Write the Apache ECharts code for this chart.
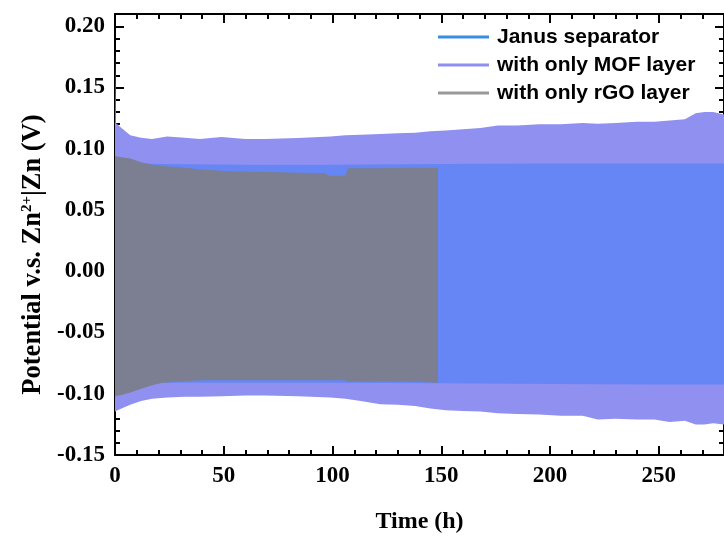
<!DOCTYPE html>
<html><head><meta charset="utf-8">
<script src="https://cdn.jsdelivr.net/npm/echarts@6/dist/echarts.min.js"></script>
<style>html,body{margin:0;padding:0;background:#fff}#c{width:724px;height:539px}</style>
</head><body><div id="c"></div>
<script>
// ---- data (envelopes of the cycling voltage traces) ----
const seriesNames = ['Janus separator', 'with only MOF layer', 'with only rGO layer'];
const xTickLabels = [0, 50, 100, 150, 200, 250];
const yTickLabels = [-0.15, -0.10, -0.05, 0.00, 0.05, 0.10, 0.15, 0.20];

const mofTime  = [0, 0.4, 3, 7, 12, 17, 24, 32, 39, 49, 60, 69, 84, 99, 106, 113, 122, 130, 138, 145, 152, 160, 168, 176, 185, 195, 205, 215, 222, 230, 240, 248, 255, 262, 267, 271, 275, 280];
const mofUpper = [0.18, 0.121, 0.117, 0.111, 0.109, 0.108, 0.110, 0.109, 0.108, 0.1095, 0.108, 0.108, 0.1087, 0.110, 0.111, 0.1115, 0.112, 0.1127, 0.113, 0.1143, 0.115, 0.116, 0.117, 0.119, 0.119, 0.120, 0.120, 0.121, 0.1205, 0.121, 0.122, 0.122, 0.123, 0.124, 0.129, 0.130, 0.130, 0.128];
const mofLower = [-0.115, -0.114, -0.112, -0.109, -0.106, -0.104, -0.103, -0.1025, -0.1025, -0.102, -0.1015, -0.1015, -0.102, -0.103, -0.104, -0.106, -0.1085, -0.109, -0.110, -0.112, -0.1135, -0.114, -0.1145, -0.116, -0.1165, -0.117, -0.118, -0.118, -0.121, -0.1205, -0.121, -0.121, -0.123, -0.122, -0.125, -0.125, -0.124, -0.125];

const janusTime  = [0, 20, 60, 100, 150, 200, 250, 280];
const janusUpper = [0.089, 0.0875, 0.087, 0.087, 0.0875, 0.088, 0.088, 0.088];
const janusLower = [-0.091, -0.091, -0.091, -0.091, -0.0915, -0.092, -0.0925, -0.0925];

const rgoTime  = [0, 3, 7, 12, 17, 22, 30, 40, 55, 70, 85, 97, 98, 106, 107, 120, 135, 148.5];
const rgoUpper = [0.094, 0.093, 0.092, 0.089, 0.087, 0.086, 0.085, 0.083, 0.0815, 0.081, 0.0805, 0.080, 0.078, 0.078, 0.084, 0.084, 0.0845, 0.0845];
const rgoLower = [-0.102, -0.101, -0.099, -0.096, -0.093, -0.091, -0.090, -0.089, -0.089, -0.089, -0.089, -0.089, -0.089, -0.089, -0.090, -0.090, -0.090, -0.091];

// ---- chart ----
const serif = 'Liberation Serif';
const sans = 'Liberation Sans';
const fillColors = { mof: '#9090f0', janus: '#6786f6', rgo: '#7b7f91' };
const legendColors = ['#3a8ee2', '#8e8ff0', '#999999'];

function bandSeries(name, time, upper, lower, color) {
  const data = time.map((t, i) => [t, upper[i], lower[i]]);
  return {
    name, type: 'custom', coordinateSystem: 'cartesian2d', xAxisIndex: 0, yAxisIndex: 0,
    data, encode: { x: 0, y: [1, 2] }, itemStyle: { color }, silent: true, clip: true,
    renderItem(params, api) {
      if (params.dataIndex !== 0) return null;
      const pts = [];
      for (let i = 0; i < data.length; i++) pts.push(api.coord([data[i][0], data[i][1]]));
      for (let i = data.length - 1; i >= 0; i--) pts.push(api.coord([data[i][0], data[i][2]]));
      return { type: 'polygon', shape: { points: pts }, style: { fill: color } };
    }
  };
}

const black = '#000';
function xAx(position, interval, major) {
  return {
    type: 'value', position, min: 0, max: 280, interval,
    axisLine: { show: major, onZero: false, lineStyle: { color: black, width: 2 } },
    axisTick: { show: true, inside: true, length: major ? 9 : 5, lineStyle: { color: black, width: 2 } },
    axisLabel: { show: false }, splitLine: { show: false }
  };
}
function yAx(position, interval, major) {
  return {
    type: 'value', position, min: -0.15, max: 0.21, interval,
    axisLine: { show: major, onZero: false, lineStyle: { color: black, width: 2 } },
    axisTick: { show: true, inside: true, length: major ? 9 : 5, lineStyle: { color: black, width: 2 } },
    axisLabel: { show: false }, splitLine: { show: false }
  };
}

const xMain = xAx('bottom', 50, true);
xMain.axisLabel = {
  show: true, margin: 10, color: black, fontFamily: serif, fontWeight: 'bold', fontSize: 23,
  showMaxLabel: false,
  formatter: v => (xTickLabels.some(l => Math.abs(l - v) < 1e-9) ? String(v) : '')
};
xMain.name = 'Time (h)';
xMain.nameLocation = 'middle';
xMain.nameGap = 55;
xMain.nameTextStyle = { color: black, fontFamily: serif, fontWeight: 'bold', fontSize: 24 };

const yMain = yAx('left', 0.05, true);
yMain.axisLabel = {
  show: true, margin: 10, color: black, fontFamily: serif, fontWeight: 'bold', fontSize: 23,
  showMaxLabel: false,
  formatter: v => {
    const m = yTickLabels.find(l => Math.abs(l - v) < 1e-9);
    return m === undefined ? '' : m.toFixed(2);
  }
};
yMain.name = 'Potential v.s. Zn{sup|2+}|Zn (V)';
yMain.nameLocation = 'middle';
yMain.nameGap = 67;
yMain.nameTextStyle = {
  color: black, fontFamily: serif, fontWeight: 'bold', fontSize: 26.5, padding: [0, 40, 0, 0],
  rich: { sup: { fontFamily: serif, fontWeight: 'bold', fontSize: 15, color: black, verticalAlign: 'top', padding: [0, 0, 12, 0] } }
};

const chart = echarts.init(document.getElementById('c'), null, { renderer: 'canvas' });
chart.setOption({
  animation: false,
  backgroundColor: '#fff',
  grid: { left: 115, right: -4.5, top: 14, bottom: 78, containLabel: false },
  xAxis: [xMain, xAx('bottom', 10, false), xAx('top', 50, true), xAx('top', 10, false)],
  yAxis: [yMain, yAx('left', 0.01, false), yAx('right', 0.05, true), yAx('right', 0.01, false)],
  legend: {
    orient: 'vertical', left: 438, top: 26.5, padding: 0,
    itemWidth: 51, itemHeight: 3, itemGap: 7, icon: 'rect',
    textStyle: { fontFamily: sans, fontWeight: 'bold', fontSize: 21, color: black, lineHeight: 21, padding: [0, 0, 0, 3] },
    data: seriesNames.map((n, i) => ({ name: n, itemStyle: { color: legendColors[i] } }))
  },
  series: [
    bandSeries(seriesNames[1], mofTime, mofUpper, mofLower, fillColors.mof),
    bandSeries(seriesNames[0], janusTime, janusUpper, janusLower, fillColors.janus),
    bandSeries(seriesNames[2], rgoTime, rgoUpper, rgoLower, fillColors.rgo)
  ]
});
</script>
</body></html>
